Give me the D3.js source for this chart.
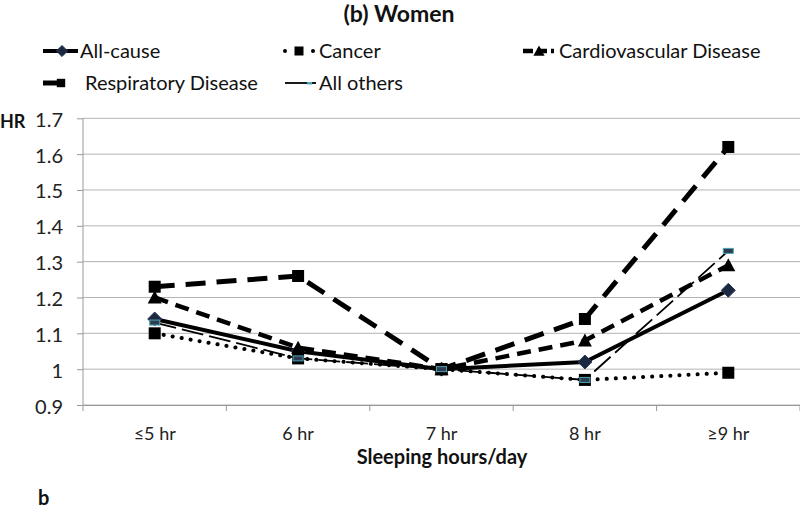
<!DOCTYPE html>
<html><head><meta charset="utf-8">
<script src="https://cdn.jsdelivr.net/npm/d3@7"></script>
<style>body{margin:0;background:#fff}svg{display:block}text{font-family:Lato,"Open Sans",sans-serif}</style>
</head><body><svg id="c" width="800" height="511"></svg>
<script>
const categories = ["≤5 hr","6 hr","7 hr","8 hr","≥9 hr"];
const yTicks = [0.9,1,1.1,1.2,1.3,1.4,1.5,1.6,1.7];
const allCause = [1.14,1.05,1.00,1.02,1.22];
const cancer = [1.10,1.03,1.00,0.97,0.99];
const cvd = [1.20,1.06,1.00,1.08,1.29];
const respiratory = [1.23,1.26,1.00,1.14,1.62];
const allOthers = [1.13,1.03,1.00,0.97,1.33];
const seriesNames = ["All-cause","Cancer","Cardiovascular Disease","Respiratory Disease","All others"];

const styles = [
  {w:4, dash:null, cap:"butt", marker:"diamond", mfill:"#1c2740"},
  {w:4, dash:"0.1,9", cap:"round", marker:"square", mfill:"#000"},
  {w:4.5, dash:"14,8", cap:"butt", marker:"triangle", mfill:"#000"},
  {w:5, dash:"20,11", cap:"butt", marker:"square", mfill:"#000"},
  {w:1.8, dash:"22,6", cap:"butt", marker:"dash", mfill:"#4fa3b5"}
];
const data = [allCause,cancer,cvd,respiratory,allOthers];

const svg = d3.select("#c");
const x = d3.scaleBand().domain(categories).range([83,800]);
const y = d3.scaleLinear().domain([0.9,1.7]).range([405,118.3]);

// grid
svg.append("g").selectAll("line").data(yTicks).join("line")
  .attr("x1",83).attr("x2",800).attr("y1",d=>y(d)).attr("y2",d=>y(d))
  .attr("stroke","#b3b3b3").attr("stroke-width",1);

// y axis
const ya = svg.append("g").attr("transform","translate(83,0)")
  .call(d3.axisLeft(y).tickValues(yTicks).tickSize(6).tickPadding(14).tickFormat(d=>d3.format("")(+d.toFixed(1))));
ya.select(".domain").attr("stroke","#999").attr("d","M0,118.3V405");
ya.selectAll(".tick line").attr("stroke","#999");
ya.selectAll("text").attr("font-size",20).attr("fill","#222").attr("font-family","Lato,sans-serif").attr("dy","0.4em");

// x axis
const xa = svg.append("g").attr("transform","translate(0,405)")
  .call(d3.axisBottom(x).tickSize(0).tickPadding(22));
xa.select(".domain").attr("stroke","#999");
xa.selectAll("text").attr("font-size",18).attr("fill","#222").attr("font-family","Lato,sans-serif");
svg.append("g").selectAll("line").data(categories.concat(["end"])).join("line")
  .attr("x1",(d,i)=>83+i*x.bandwidth()).attr("x2",(d,i)=>83+i*x.bandwidth())
  .attr("y1",405).attr("y2",411).attr("stroke","#999");

const cx = d => x(d)+x.bandwidth()/2;

function drawMarker(g, type, px, py, fill, s){
  s = s||1;
  if(type==="diamond"){
    g.append("path").attr("d",`M${px},${py-7*s}L${px+7*s},${py}L${px},${py+7*s}L${px-7*s},${py}Z`).attr("fill",fill).attr("stroke","#2a3a5a").attr("stroke-width",1);
  } else if(type==="square"){
    g.append("rect").attr("x",px-6*s).attr("y",py-6*s).attr("width",12*s).attr("height",12*s).attr("fill",fill);
  } else if(type==="triangle"){
    g.append("path").attr("d",`M${px},${py-7*s}L${px+7*s},${py+6*s}L${px-7*s},${py+6*s}Z`).attr("fill",fill);
  } else if(type==="dash"){
    g.append("rect").attr("x",px-5*s).attr("y",py-2.5*s).attr("width",10*s).attr("height",5*s).attr("fill","#2b3d4f").attr("stroke",fill).attr("stroke-width",1);
  }
}

const line = d3.line().x((d,i)=>cx(categories[i])).y(d=>y(d));
data.forEach((vals,k)=>{
  const st = styles[k];
  const g = svg.append("g");
  g.append("path").attr("d",line(vals)).attr("fill","none").attr("stroke","#000")
    .attr("stroke-width",st.w).attr("stroke-dasharray",st.dash).attr("stroke-linecap",st.cap).attr("stroke-linejoin","round");
  vals.forEach((v,i)=>drawMarker(g, st.marker, cx(categories[i]), y(v), st.mfill));
});

// title
svg.append("text").attr("x",399).attr("y",22).attr("text-anchor","middle").attr("font-size",23).attr("font-weight","bold").attr("fill","#111").text("(b) Women");

// legend
const g0 = svg.append("g");
// All-cause
g0.append("line").attr("x1",43).attr("x2",78).attr("y1",51).attr("y2",51).attr("stroke","#000").attr("stroke-width",4);
drawMarker(g0,"diamond",62,51,"#1c2740",0.8);
// Cancer
[285,313].forEach(px=>g0.append("circle").attr("cx",px).attr("cy",51).attr("r",2).attr("fill","#000"));
drawMarker(g0,"square",299,51,"#000",0.75);
// CVD
g0.append("line").attr("x1",523).attr("x2",554).attr("y1",51).attr("y2",51).attr("stroke","#000").attr("stroke-width",4.5).attr("stroke-dasharray","10,4");
drawMarker(g0,"triangle",539,51,"#000",0.8);
// Respiratory
g0.append("line").attr("x1",43).attr("x2",58).attr("y1",83).attr("y2",83).attr("stroke","#000").attr("stroke-width",5);
drawMarker(g0,"square",61,83,"#000",0.7);
// All others
g0.append("line").attr("x1",285).attr("x2",307).attr("y1",83).attr("y2",83).attr("stroke","#000").attr("stroke-width",1.8);
g0.append("rect").attr("x",307).attr("y",82).attr("width",5).attr("height",2.5).attr("fill","#4fa3b5");
g0.append("line").attr("x1",312).attr("x2",316).attr("y1",83).attr("y2",83).attr("stroke","#000").attr("stroke-width",1.8);

const legText = [[80,51],[319,51],[559,51],[85,83],[319,83]];
seriesNames.forEach((n,k)=>{
  svg.append("text").attr("x",legText[k][0]).attr("y",legText[k][1]).attr("dy","0.35em").attr("font-size",20).attr("fill","#111").text(n);
});

// axis titles
svg.append("text").attr("x",0).attr("y",128).attr("font-size",18).attr("font-weight","bold").attr("fill","#111").text("HR");
svg.append("text").attr("x",442).attr("y",464).attr("text-anchor","middle").attr("font-size",20).attr("font-weight","bold").attr("fill","#111").text("Sleeping hours/day");
svg.append("text").attr("x",38).attr("y",505).attr("font-size",20).attr("font-weight","bold").attr("font-family","Liberation Serif,serif").attr("fill","#111").text("b");
</script></body></html>
